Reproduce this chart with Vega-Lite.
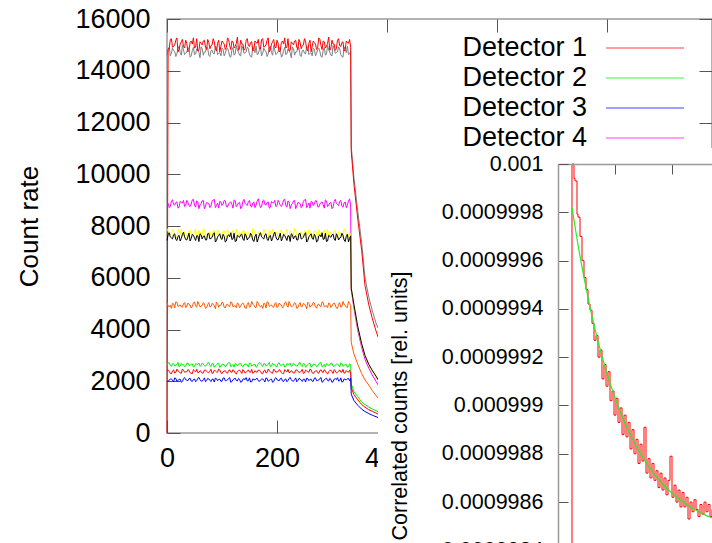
{
  "width": 545,
  "height": 414,
  "autosize": "none",
  "padding": {"left": 167, "top": 19, "right": 0, "bottom": 110},
  "background": "white",
  "config": {
    "font": "Liberation Sans",
    "view": {"stroke": "#9a9a9a", "strokeWidth": 1.5},
    "axis": {"labelFont": "Liberation Sans", "titleFont": "Liberation Sans", "labelColor": "#000000", "titleColor": "#000000", "tickColor": "#555555", "grid": false, "titleFontWeight": "normal", "labelFlush": false, "labelOverlap": false},
    "legend": {"labelFont": "Liberation Sans", "labelColor": "#000000"}
  },
  "datasets": {
    "main": [
      {"t":0,"D8":14600,"Sum":0,"D4":8870,"D5":7900,"D6":7440,"D7":5055,"D2":2600,"D1":2410,"D3":2000},
      {"t":4,"D8":14900,"Sum":14850,"D4":8710,"D5":7660,"D6":7740,"D7":4875,"D2":2700,"D1":2380,"D3":2050},
      {"t":8,"D8":14675,"Sum":15240,"D4":8970,"D5":7700,"D6":7540,"D7":4815,"D2":2570,"D1":2290,"D3":2090},
      {"t":12,"D8":14775,"Sum":14940,"D4":8830,"D5":7800,"D6":7660,"D7":4995,"D2":2670,"D1":2440,"D3":1970},
      {"t":16,"D8":14550,"Sum":15180,"D4":8910,"D5":7560,"D6":7480,"D7":5070,"D2":2610,"D1":2340,"D3":2110},
      {"t":20,"D8":14875,"Sum":14730,"D4":8690,"D5":7860,"D6":7600,"D7":4890,"D2":2730,"D1":2400,"D3":2030},
      {"t":24,"D8":14700,"Sum":15030,"D4":8950,"D5":7680,"D6":7420,"D7":4950,"D2":2590,"D1":2320,"D3":2080},
      {"t":28,"D8":14975,"Sum":15210,"D4":8890,"D5":7620,"D6":7680,"D7":4860,"D2":2640,"D1":2470,"D3":1990},
      {"t":32,"D8":14625,"Sum":14880,"D4":8750,"D5":7780,"D6":7580,"D7":5040,"D2":2560,"D1":2350,"D3":2140},
      {"t":36,"D8":14725,"Sum":15060,"D4":8990,"D5":7580,"D6":7460,"D7":4905,"D2":2690,"D1":2370,"D3":2040},
      {"t":40,"D8":14825,"Sum":14790,"D4":8790,"D5":7820,"D6":7720,"D7":4965,"D2":2620,"D1":2420,"D3":2100},
      {"t":44,"D8":14575,"Sum":15150,"D4":8850,"D5":7720,"D6":7520,"D7":4830,"D2":2660,"D1":2300,"D3":2010},
      {"t":48,"D8":14900,"Sum":15270,"D4":9030,"D5":7640,"D6":7640,"D7":5025,"D2":2550,"D1":2450,"D3":2070},
      {"t":52,"D8":14650,"Sum":14910,"D4":8730,"D5":7880,"D6":7440,"D7":4920,"D2":2680,"D1":2360,"D3":1980},
      {"t":56,"D8":14800,"Sum":14760,"D4":8930,"D5":7600,"D6":7620,"D7":5085,"D2":2650,"D1":2330,"D3":2110},
      {"t":60,"D8":14500,"Sum":15120,"D4":8810,"D5":7760,"D6":7700,"D7":4875,"D2":2580,"D1":2410,"D3":2060},
      {"t":64,"D8":14850,"Sum":15000,"D4":8970,"D5":7660,"D6":7500,"D7":4935,"D2":2700,"D1":2310,"D3":2000},
      {"t":68,"D8":14725,"Sum":15180,"D4":8670,"D5":7840,"D6":7620,"D7":4995,"D2":2600,"D1":2430,"D3":2130},
      {"t":72,"D8":14925,"Sum":14820,"D4":8910,"D5":7540,"D6":7460,"D7":4845,"D2":2630,"D1":2380,"D3":2030},
      {"t":76,"D8":14600,"Sum":15090,"D4":8870,"D5":7740,"D6":7720,"D7":5040,"D2":2720,"D1":2340,"D3":2090},
      {"t":80,"D8":14775,"Sum":14970,"D4":8770,"D5":7620,"D6":7520,"D7":4890,"D2":2570,"D1":2460,"D3":1990},
      {"t":84,"D8":14675,"Sum":15240,"D4":9010,"D5":7800,"D6":7680,"D7":4980,"D2":2670,"D1":2320,"D3":2080},
      {"t":88,"D8":14950,"Sum":14850,"D4":8710,"D5":7680,"D6":7380,"D7":4800,"D2":2610,"D1":2400,"D3":2120},
      {"t":92,"D8":14625,"Sum":15060,"D4":8890,"D5":7860,"D6":7580,"D7":5010,"D2":2690,"D1":2350,"D3":2020},
      {"t":96,"D8":14700,"Sum":14730,"D4":8950,"D5":7600,"D6":7700,"D7":4935,"D2":2540,"D1":2440,"D3":2080},
      {"t":100,"D8":14875,"Sum":15150,"D4":8790,"D5":7700,"D6":7480,"D7":5055,"D2":2660,"D1":2290,"D3":2000},
      {"t":104,"D8":14575,"Sum":15030,"D4":8990,"D5":7820,"D6":7600,"D7":4860,"D2":2640,"D1":2390,"D3":2130},
      {"t":108,"D8":14825,"Sum":14910,"D4":8750,"D5":7560,"D6":7420,"D7":4965,"D2":2590,"D1":2330,"D3":2030},
      {"t":112,"D8":14750,"Sum":15210,"D4":8850,"D5":7760,"D6":7660,"D7":4905,"D2":2710,"D1":2420,"D3":2110},
      {"t":116,"D8":14525,"Sum":14820,"D4":8930,"D5":7640,"D6":7740,"D7":5070,"D2":2560,"D1":2360,"D3":1960},
      {"t":120,"D8":14900,"Sum":15120,"D4":8690,"D5":7840,"D6":7500,"D7":4875,"D2":2650,"D1":2450,"D3":2060},
      {"t":124,"D8":14650,"Sum":14940,"D4":8970,"D5":7660,"D6":7400,"D7":4920,"D2":2680,"D1":2320,"D3":2120},
      {"t":128,"D8":14800,"Sum":15300,"D4":8810,"D5":7580,"D6":7640,"D7":5025,"D2":2600,"D1":2370,"D3":2010},
      {"t":132,"D8":14600,"Sum":14880,"D4":8910,"D5":7780,"D6":7560,"D7":4845,"D2":2700,"D1":2430,"D3":2070},
      {"t":136,"D8":14975,"Sum":15030,"D4":8730,"D5":7660,"D6":7680,"D7":4995,"D2":2580,"D1":2300,"D3":1980},
      {"t":140,"D8":14675,"Sum":14790,"D4":9030,"D5":7820,"D6":7440,"D7":4950,"D2":2630,"D1":2400,"D3":2100},
      {"t":144,"D8":14725,"Sum":15180,"D4":8830,"D5":7560,"D6":7620,"D7":4815,"D2":2670,"D1":2340,"D3":2140},
      {"t":148,"D8":14850,"Sum":14970,"D4":8950,"D5":7760,"D6":7540,"D7":5040,"D2":2550,"D1":2440,"D3":2020},
      {"t":152,"D8":14550,"Sum":15090,"D4":8770,"D5":7600,"D6":7720,"D7":4890,"D2":2690,"D1":2350,"D3":1970},
      {"t":156,"D8":14925,"Sum":14760,"D4":8890,"D5":7900,"D6":7460,"D7":4980,"D2":2610,"D1":2310,"D3":2090},
      {"t":160,"D8":14700,"Sum":15150,"D4":8710,"D5":7700,"D6":7600,"D7":4860,"D2":2660,"D1":2410,"D3":2050},
      {"t":164,"D8":14625,"Sum":15060,"D4":8970,"D5":7580,"D6":7380,"D7":5085,"D2":2570,"D1":2350,"D3":2110},
      {"t":168,"D8":14825,"Sum":14850,"D4":8870,"D5":7800,"D6":7660,"D7":4905,"D2":2720,"D1":2430,"D3":1990},
      {"t":172,"D8":14575,"Sum":15210,"D4":8750,"D5":7680,"D6":7580,"D7":4935,"D2":2620,"D1":2300,"D3":2080},
      {"t":176,"D8":14875,"Sum":14910,"D4":9010,"D5":7860,"D6":7500,"D7":5010,"D2":2680,"D1":2400,"D3":2040},
      {"t":180,"D8":14750,"Sum":15000,"D4":8810,"D5":7620,"D6":7700,"D7":4830,"D2":2590,"D1":2320,"D3":2130},
      {"t":184,"D8":14650,"Sum":15270,"D4":8930,"D5":7540,"D6":7440,"D7":5055,"D2":2650,"D1":2470,"D3":2000},
      {"t":188,"D8":14950,"Sum":14820,"D4":8730,"D5":7780,"D6":7640,"D7":4920,"D2":2560,"D1":2370,"D3":2070},
      {"t":192,"D8":14600,"Sum":15120,"D4":8910,"D5":7880,"D6":7520,"D7":4875,"D2":2690,"D1":2310,"D3":1960},
      {"t":196,"D8":14800,"Sum":14940,"D4":8990,"D5":7640,"D6":7760,"D7":4995,"D2":2640,"D1":2420,"D3":2100},
      {"t":200,"D8":14675,"Sum":15180,"D4":8790,"D5":7720,"D6":7480,"D7":4845,"D2":2580,"D1":2360,"D3":2060},
      {"t":204,"D8":14900,"Sum":14730,"D4":8910,"D5":7600,"D6":7580,"D7":5025,"D2":2710,"D1":2450,"D3":2020},
      {"t":208,"D8":14525,"Sum":15090,"D4":8750,"D5":7840,"D6":7420,"D7":4950,"D2":2610,"D1":2330,"D3":2120},
      {"t":212,"D8":14775,"Sum":15030,"D4":9010,"D5":7660,"D6":7680,"D7":4890,"D2":2670,"D1":2290,"D3":1990},
      {"t":216,"D8":14625,"Sum":14880,"D4":8810,"D5":7740,"D6":7540,"D7":5070,"D2":2570,"D1":2410,"D3":2090},
      {"t":220,"D8":14850,"Sum":15240,"D4":8970,"D5":7560,"D6":7620,"D7":4860,"D2":2660,"D1":2460,"D3":2030},
      {"t":224,"D8":14700,"Sum":14790,"D4":8670,"D5":7820,"D6":7400,"D7":4980,"D2":2700,"D1":2340,"D3":2150},
      {"t":228,"D8":14925,"Sum":15060,"D4":8870,"D5":7680,"D6":7660,"D7":4905,"D2":2600,"D1":2380,"D3":2010},
      {"t":232,"D8":14600,"Sum":15150,"D4":8990,"D5":7900,"D6":7600,"D7":5040,"D2":2660,"D1":2320,"D3":2060},
      {"t":236,"D8":14725,"Sum":14910,"D4":8770,"D5":7620,"D6":7460,"D7":4815,"D2":2580,"D1":2440,"D3":1980},
      {"t":240,"D8":14875,"Sum":15210,"D4":8890,"D5":7700,"D6":7700,"D7":4965,"D2":2710,"D1":2350,"D3":2110},
      {"t":244,"D8":14550,"Sum":14850,"D4":8710,"D5":7780,"D6":7500,"D7":4875,"D2":2610,"D1":2390,"D3":2040},
      {"t":248,"D8":14800,"Sum":15000,"D4":8950,"D5":7580,"D6":7560,"D7":5010,"D2":2690,"D1":2300,"D3":2080},
      {"t":252,"D8":14650,"Sum":15120,"D4":9030,"D5":7840,"D6":7740,"D7":4920,"D2":2540,"D1":2430,"D3":1970},
      {"t":256,"D8":14900,"Sum":14760,"D4":8790,"D5":7640,"D6":7440,"D7":5055,"D2":2640,"D1":2360,"D3":2100},
      {"t":260,"D8":14675,"Sum":15180,"D4":8690,"D5":7760,"D6":7640,"D7":4860,"D2":2700,"D1":2470,"D3":2070},
      {"t":264,"D8":14575,"Sum":14940,"D4":8930,"D5":7520,"D6":7520,"D7":4935,"D2":2590,"D1":2330,"D3":2000},
      {"t":268,"D8":14825,"Sum":15090,"D4":8850,"D5":7800,"D6":7680,"D7":5025,"D2":2650,"D1":2370,"D3":2120},
      {"t":272,"D8":14675,"Sum":14820,"D4":8970,"D5":7700,"D6":7380,"D7":4830,"D2":2560,"D1":2410,"D3":2020},
      {"t":276,"D8":14875,"Sum":15270,"D4":8730,"D5":7860,"D6":7620,"D7":4980,"D2":2680,"D1":2310,"D3":2050},
      {"t":280,"D8":14550,"Sum":14970,"D4":8910,"D5":7600,"D6":7580,"D7":4890,"D2":2720,"D1":2440,"D3":2140},
      {"t":284,"D8":14800,"Sum":15150,"D4":8830,"D5":7740,"D6":7480,"D7":5040,"D2":2600,"D1":2340,"D3":1990},
      {"t":288,"D8":14600,"Sum":14880,"D4":9010,"D5":7660,"D6":7720,"D7":4905,"D2":2550,"D1":2400,"D3":2090},
      {"t":292,"D8":14975,"Sum":15060,"D4":8750,"D5":7880,"D6":7420,"D7":4845,"D2":2670,"D1":2280,"D3":2030},
      {"t":296,"D8":14725,"Sum":14790,"D4":8890,"D5":7620,"D6":7600,"D7":4995,"D2":2630,"D1":2420,"D3":2110},
      {"t":300,"D8":14575,"Sum":15180,"D4":8670,"D5":7680,"D6":7660,"D7":4905,"D2":2690,"D1":2370,"D3":1960},
      {"t":304,"D8":14850,"Sum":15030,"D4":8950,"D5":7820,"D6":7500,"D7":5025,"D2":2570,"D1":2450,"D3":2080},
      {"t":308,"D8":14700,"Sum":14850,"D4":8870,"D5":7580,"D6":7700,"D7":4830,"D2":2660,"D1":2320,"D3":2060},
      {"t":312,"D8":14925,"Sum":15240,"D4":8790,"D5":7780,"D6":7460,"D7":4980,"D2":2620,"D1":2390,"D3":2010},
      {"t":316,"D8":14625,"Sum":14940,"D4":8990,"D5":7720,"D6":7560,"D7":4860,"D2":2710,"D1":2350,"D3":2130},
      {"t":320,"D8":14525,"Sum":15120,"D4":8730,"D5":7540,"D6":7640,"D7":5085,"D2":2580,"D1":2460,"D3":1980},
      {"t":324,"D8":14825,"Sum":14820,"D4":8930,"D5":7840,"D6":7400,"D7":4935,"D2":2650,"D1":2330,"D3":2070},
      {"t":328,"D8":14950,"Sum":15090,"D4":8810,"D5":7640,"D6":7680,"D7":4845,"D2":2540,"D1":2360,"D3":2100},
      {"t":332,"D8":14650,"Sum":15210,"D4":9050,"D5":7760,"D6":7520,"D7":5010,"D2":2680,"D1":2430,"D3":2020},
      {"t":334,"D8":14750,"Sum":14910,"D4":8770,"D5":7600,"D6":7620,"D7":4920,"D2":2640,"D1":2310,"D3":2120},
      {"t":335,"D8":11100,"Sum":10900,"D4":5550,"D5":5600,"D6":5600,"D7":3500,"D2":1900,"D1":1750,"D3":1500},
      {"t":340,"D8":9850,"Sum":9600,"D4":4800,"D5":4900,"D6":4950,"D7":3050,"D2":1600,"D1":1480,"D3":1250},
      {"t":347,"D8":8550,"Sum":8250,"D4":3950,"D5":4080,"D6":4100,"D7":2650,"D2":1400,"D1":1280,"D3":1070},
      {"t":354,"D8":7350,"Sum":7050,"D4":3300,"D5":3420,"D6":3450,"D7":2300,"D2":1200,"D1":1100,"D3":920},
      {"t":360,"D8":6000,"Sum":5700,"D4":2850,"D5":2980,"D6":3000,"D7":2050,"D2":1100,"D1":1000,"D3":830},
      {"t":367,"D8":5250,"Sum":4950,"D4":2500,"D5":2620,"D6":2650,"D7":1850,"D2":1000,"D1":900,"D3":750},
      {"t":373,"D8":4750,"Sum":4450,"D4":2250,"D5":2400,"D6":2430,"D7":1650,"D2":930,"D1":840,"D3":690},
      {"t":380,"D8":4250,"Sum":3950,"D4":2000,"D5":2180,"D6":2200,"D7":1450,"D2":860,"D1":770,"D3":630},
      {"t":384,"D8":4050,"Sum":3700,"D4":1850,"D5":2030,"D6":2050,"D7":1350,"D2":820,"D1":730,"D3":600},
      {"t":170,"D8":14900,"Sum":14850,"D4":8710,"D5":7660,"D6":7740,"D7":4875,"D2":2700,"D1":2380,"D3":2050},
      {"t":174,"D8":14675,"Sum":15240,"D4":8970,"D5":7700,"D6":7540,"D7":4815,"D2":2570,"D1":2290,"D3":2090},
      {"t":178,"D8":14775,"Sum":14940,"D4":8830,"D5":7800,"D6":7660,"D7":4995,"D2":2670,"D1":2440,"D3":1970},
      {"t":182,"D8":14550,"Sum":15180,"D4":8910,"D5":7560,"D6":7480,"D7":5070,"D2":2610,"D1":2340,"D3":2110},
      {"t":186,"D8":14875,"Sum":14730,"D4":8690,"D5":7860,"D6":7600,"D7":4890,"D2":2730,"D1":2400,"D3":2030},
      {"t":190,"D8":14700,"Sum":15030,"D4":8950,"D5":7680,"D6":7420,"D7":4950,"D2":2590,"D1":2320,"D3":2080},
      {"t":194,"D8":14975,"Sum":15210,"D4":8890,"D5":7620,"D6":7680,"D7":4860,"D2":2640,"D1":2470,"D3":1990},
      {"t":198,"D8":14625,"Sum":14880,"D4":8750,"D5":7780,"D6":7580,"D7":5040,"D2":2560,"D1":2350,"D3":2140},
      {"t":202,"D8":14725,"Sum":15060,"D4":8990,"D5":7580,"D6":7460,"D7":4905,"D2":2690,"D1":2370,"D3":2040},
      {"t":206,"D8":14825,"Sum":14790,"D4":8790,"D5":7820,"D6":7720,"D7":4965,"D2":2620,"D1":2420,"D3":2100},
      {"t":210,"D8":14575,"Sum":15150,"D4":8850,"D5":7720,"D6":7520,"D7":4830,"D2":2660,"D1":2300,"D3":2010},
      {"t":214,"D8":14900,"Sum":15270,"D4":9030,"D5":7640,"D6":7640,"D7":5025,"D2":2550,"D1":2450,"D3":2070},
      {"t":218,"D8":14650,"Sum":14910,"D4":8730,"D5":7880,"D6":7440,"D7":4920,"D2":2680,"D1":2360,"D3":1980},
      {"t":222,"D8":14800,"Sum":14760,"D4":8930,"D5":7600,"D6":7620,"D7":5085,"D2":2650,"D1":2330,"D3":2110},
      {"t":226,"D8":14500,"Sum":15120,"D4":8810,"D5":7760,"D6":7700,"D7":4875,"D2":2580,"D1":2410,"D3":2060},
      {"t":230,"D8":14850,"Sum":15000,"D4":8970,"D5":7660,"D6":7500,"D7":4935,"D2":2700,"D1":2310,"D3":2000},
      {"t":234,"D8":14725,"Sum":15180,"D4":8670,"D5":7840,"D6":7620,"D7":4995,"D2":2600,"D1":2430,"D3":2130},
      {"t":238,"D8":14925,"Sum":14820,"D4":8910,"D5":7540,"D6":7460,"D7":4845,"D2":2630,"D1":2380,"D3":2030},
      {"t":242,"D8":14600,"Sum":15090,"D4":8870,"D5":7740,"D6":7720,"D7":5040,"D2":2720,"D1":2340,"D3":2090},
      {"t":246,"D8":14775,"Sum":14970,"D4":8770,"D5":7620,"D6":7520,"D7":4890,"D2":2570,"D1":2460,"D3":1990},
      {"t":250,"D8":14675,"Sum":15240,"D4":9010,"D5":7800,"D6":7680,"D7":4980,"D2":2670,"D1":2320,"D3":2080},
      {"t":254,"D8":14950,"Sum":14850,"D4":8710,"D5":7680,"D6":7380,"D7":4800,"D2":2610,"D1":2400,"D3":2120},
      {"t":258,"D8":14625,"Sum":15060,"D4":8890,"D5":7860,"D6":7580,"D7":5010,"D2":2690,"D1":2350,"D3":2020},
      {"t":262,"D8":14700,"Sum":14730,"D4":8950,"D5":7600,"D6":7700,"D7":4935,"D2":2540,"D1":2440,"D3":2080},
      {"t":266,"D8":14875,"Sum":15150,"D4":8790,"D5":7700,"D6":7480,"D7":5055,"D2":2660,"D1":2290,"D3":2000},
      {"t":270,"D8":14575,"Sum":15030,"D4":8990,"D5":7820,"D6":7600,"D7":4860,"D2":2640,"D1":2390,"D3":2130},
      {"t":274,"D8":14825,"Sum":14910,"D4":8750,"D5":7560,"D6":7420,"D7":4965,"D2":2590,"D1":2330,"D3":2030},
      {"t":278,"D8":14750,"Sum":15210,"D4":8850,"D5":7760,"D6":7660,"D7":4905,"D2":2710,"D1":2420,"D3":2110},
      {"t":282,"D8":14525,"Sum":14820,"D4":8930,"D5":7640,"D6":7740,"D7":5070,"D2":2560,"D1":2360,"D3":1960},
      {"t":286,"D8":14900,"Sum":15120,"D4":8690,"D5":7840,"D6":7500,"D7":4875,"D2":2650,"D1":2450,"D3":2060},
      {"t":290,"D8":14650,"Sum":14940,"D4":8970,"D5":7660,"D6":7400,"D7":4920,"D2":2680,"D1":2320,"D3":2120},
      {"t":294,"D8":14800,"Sum":15300,"D4":8810,"D5":7580,"D6":7640,"D7":5025,"D2":2600,"D1":2370,"D3":2010},
      {"t":298,"D8":14600,"Sum":14880,"D4":8910,"D5":7780,"D6":7560,"D7":4845,"D2":2700,"D1":2430,"D3":2070},
      {"t":302,"D8":14975,"Sum":15030,"D4":8730,"D5":7660,"D6":7680,"D7":4995,"D2":2580,"D1":2300,"D3":1980},
      {"t":306,"D8":14675,"Sum":14790,"D4":9030,"D5":7820,"D6":7440,"D7":4950,"D2":2630,"D1":2400,"D3":2100},
      {"t":310,"D8":14725,"Sum":15180,"D4":8830,"D5":7560,"D6":7620,"D7":4815,"D2":2670,"D1":2340,"D3":2140},
      {"t":314,"D8":14850,"Sum":14970,"D4":8950,"D5":7760,"D6":7540,"D7":5040,"D2":2550,"D1":2440,"D3":2020},
      {"t":318,"D8":14550,"Sum":15090,"D4":8770,"D5":7600,"D6":7720,"D7":4890,"D2":2690,"D1":2350,"D3":1970},
      {"t":322,"D8":14925,"Sum":14760,"D4":8890,"D5":7900,"D6":7460,"D7":4980,"D2":2610,"D1":2310,"D3":2090},
      {"t":326,"D8":14700,"Sum":15150,"D4":8710,"D5":7700,"D6":7600,"D7":4860,"D2":2660,"D1":2410,"D3":2050},
      {"t":330,"D8":14625,"Sum":15060,"D4":8970,"D5":7580,"D6":7380,"D7":5085,"D2":2570,"D1":2350,"D3":2110},
      {"t":2,"D8":14825,"Sum":14850,"D4":8870,"D5":7800,"D6":7660,"D7":4905,"D2":2720,"D1":2430,"D3":1990},
      {"t":6,"D8":14575,"Sum":15210,"D4":8750,"D5":7680,"D6":7580,"D7":4935,"D2":2620,"D1":2300,"D3":2080},
      {"t":10,"D8":14875,"Sum":14910,"D4":9010,"D5":7860,"D6":7500,"D7":5010,"D2":2680,"D1":2400,"D3":2040},
      {"t":14,"D8":14750,"Sum":15000,"D4":8810,"D5":7620,"D6":7700,"D7":4830,"D2":2590,"D1":2320,"D3":2130},
      {"t":18,"D8":14650,"Sum":15270,"D4":8930,"D5":7540,"D6":7440,"D7":5055,"D2":2650,"D1":2470,"D3":2000},
      {"t":22,"D8":14950,"Sum":14820,"D4":8730,"D5":7780,"D6":7640,"D7":4920,"D2":2560,"D1":2370,"D3":2070},
      {"t":26,"D8":14600,"Sum":15120,"D4":8910,"D5":7880,"D6":7520,"D7":4875,"D2":2690,"D1":2310,"D3":1960},
      {"t":30,"D8":14800,"Sum":14940,"D4":8990,"D5":7640,"D6":7760,"D7":4995,"D2":2640,"D1":2420,"D3":2100},
      {"t":34,"D8":14675,"Sum":15180,"D4":8790,"D5":7720,"D6":7480,"D7":4845,"D2":2580,"D1":2360,"D3":2060},
      {"t":38,"D8":14900,"Sum":14730,"D4":8910,"D5":7600,"D6":7580,"D7":5025,"D2":2710,"D1":2450,"D3":2020},
      {"t":42,"D8":14525,"Sum":15090,"D4":8750,"D5":7840,"D6":7420,"D7":4950,"D2":2610,"D1":2330,"D3":2120},
      {"t":46,"D8":14775,"Sum":15030,"D4":9010,"D5":7660,"D6":7680,"D7":4890,"D2":2670,"D1":2290,"D3":1990},
      {"t":50,"D8":14625,"Sum":14880,"D4":8810,"D5":7740,"D6":7540,"D7":5070,"D2":2570,"D1":2410,"D3":2090},
      {"t":54,"D8":14850,"Sum":15240,"D4":8970,"D5":7560,"D6":7620,"D7":4860,"D2":2660,"D1":2460,"D3":2030},
      {"t":58,"D8":14700,"Sum":14790,"D4":8670,"D5":7820,"D6":7400,"D7":4980,"D2":2700,"D1":2340,"D3":2150},
      {"t":62,"D8":14925,"Sum":15060,"D4":8870,"D5":7680,"D6":7660,"D7":4905,"D2":2600,"D1":2380,"D3":2010},
      {"t":66,"D8":14600,"Sum":15150,"D4":8990,"D5":7900,"D6":7600,"D7":5040,"D2":2660,"D1":2320,"D3":2060},
      {"t":70,"D8":14725,"Sum":14910,"D4":8770,"D5":7620,"D6":7460,"D7":4815,"D2":2580,"D1":2440,"D3":1980},
      {"t":74,"D8":14875,"Sum":15210,"D4":8890,"D5":7700,"D6":7700,"D7":4965,"D2":2710,"D1":2350,"D3":2110},
      {"t":78,"D8":14550,"Sum":14850,"D4":8710,"D5":7780,"D6":7500,"D7":4875,"D2":2610,"D1":2390,"D3":2040},
      {"t":82,"D8":14800,"Sum":15000,"D4":8950,"D5":7580,"D6":7560,"D7":5010,"D2":2690,"D1":2300,"D3":2080},
      {"t":86,"D8":14650,"Sum":15120,"D4":9030,"D5":7840,"D6":7740,"D7":4920,"D2":2540,"D1":2430,"D3":1970},
      {"t":90,"D8":14900,"Sum":14760,"D4":8790,"D5":7640,"D6":7440,"D7":5055,"D2":2640,"D1":2360,"D3":2100},
      {"t":94,"D8":14675,"Sum":15180,"D4":8690,"D5":7760,"D6":7640,"D7":4860,"D2":2700,"D1":2470,"D3":2070},
      {"t":98,"D8":14575,"Sum":14940,"D4":8930,"D5":7520,"D6":7520,"D7":4935,"D2":2590,"D1":2330,"D3":2000},
      {"t":102,"D8":14825,"Sum":15090,"D4":8850,"D5":7800,"D6":7680,"D7":5025,"D2":2650,"D1":2370,"D3":2120},
      {"t":106,"D8":14675,"Sum":14820,"D4":8970,"D5":7700,"D6":7380,"D7":4830,"D2":2560,"D1":2410,"D3":2020},
      {"t":110,"D8":14875,"Sum":15270,"D4":8730,"D5":7860,"D6":7620,"D7":4980,"D2":2680,"D1":2310,"D3":2050},
      {"t":114,"D8":14550,"Sum":14970,"D4":8910,"D5":7600,"D6":7580,"D7":4890,"D2":2720,"D1":2440,"D3":2140},
      {"t":118,"D8":14800,"Sum":15150,"D4":8830,"D5":7740,"D6":7480,"D7":5040,"D2":2600,"D1":2340,"D3":1990},
      {"t":122,"D8":14600,"Sum":14880,"D4":9010,"D5":7660,"D6":7720,"D7":4905,"D2":2550,"D1":2400,"D3":2090},
      {"t":126,"D8":14975,"Sum":15060,"D4":8750,"D5":7880,"D6":7420,"D7":4845,"D2":2670,"D1":2280,"D3":2030},
      {"t":130,"D8":14725,"Sum":14790,"D4":8890,"D5":7620,"D6":7600,"D7":4995,"D2":2630,"D1":2420,"D3":2110},
      {"t":134,"D8":14575,"Sum":15180,"D4":8670,"D5":7680,"D6":7660,"D7":4905,"D2":2690,"D1":2370,"D3":1960},
      {"t":138,"D8":14850,"Sum":15030,"D4":8950,"D5":7820,"D6":7500,"D7":5025,"D2":2570,"D1":2450,"D3":2080},
      {"t":142,"D8":14700,"Sum":14850,"D4":8870,"D5":7580,"D6":7700,"D7":4830,"D2":2660,"D1":2320,"D3":2060},
      {"t":146,"D8":14925,"Sum":15240,"D4":8790,"D5":7780,"D6":7460,"D7":4980,"D2":2620,"D1":2390,"D3":2010},
      {"t":150,"D8":14625,"Sum":14940,"D4":8990,"D5":7720,"D6":7560,"D7":4860,"D2":2710,"D1":2350,"D3":2130},
      {"t":154,"D8":14525,"Sum":15120,"D4":8730,"D5":7540,"D6":7640,"D7":5085,"D2":2580,"D1":2460,"D3":1980},
      {"t":158,"D8":14825,"Sum":14820,"D4":8930,"D5":7840,"D6":7400,"D7":4935,"D2":2650,"D1":2330,"D3":2070},
      {"t":162,"D8":14950,"Sum":15090,"D4":8810,"D5":7640,"D6":7680,"D7":4845,"D2":2540,"D1":2360,"D3":2100},
      {"t":166,"D8":14650,"Sum":15210,"D4":9050,"D5":7760,"D6":7520,"D7":5010,"D2":2680,"D1":2430,"D3":2020}
    ],
    "red": [
      {"u":0.2456,"c":0.000997},{"u":0.2807,"c":0.001},{"u":0.2982,"c":0.00099994},{"u":0.3333,"c":0.00099993},
      {"u":0.3509,"c":0.000999792},{"u":0.386,"c":0.00099978},{"u":0.4211,"c":0.0009997},{"u":0.4561,"c":0.0009996},
      {"u":0.4912,"c":0.00099953},{"u":0.5263,"c":0.00099948},{"u":0.5614,"c":0.00099942},{"u":0.5965,"c":0.000999395},
      {"u":0.6316,"c":0.00099934},{"u":0.6667,"c":0.00099927},{"u":0.7018,"c":0.00099929},{"u":0.7368,"c":0.0009992},
      {"u":0.7719,"c":0.00099923},{"u":0.807,"c":0.00099911},{"u":0.8421,"c":0.00099917},{"u":0.8772,"c":0.00099908},
      {"u":0.9123,"c":0.00099914},{"u":0.9474,"c":0.00099902},{"u":0.9825,"c":0.00099906},{"u":1.0175,"c":0.00099896},
      {"u":1.0526,"c":0.00099903},{"u":1.0877,"c":0.00099893},{"u":1.1228,"c":0.00099899},{"u":1.1579,"c":0.00099888},
      {"u":1.193,"c":0.00099896},{"u":1.2281,"c":0.00099887},{"u":1.2632,"c":0.00099893},{"u":1.2982,"c":0.00099882},
      {"u":1.3333,"c":0.0009989},{"u":1.3684,"c":0.0009988},{"u":1.4035,"c":0.00099886},{"u":1.4386,"c":0.00099876},
      {"u":1.4737,"c":0.00099884},{"u":1.5088,"c":0.00099877},{"u":1.5439,"c":0.00099891},{"u":1.5789,"c":0.00099872},
      {"u":1.614,"c":0.00099878},{"u":1.6491,"c":0.0009987},{"u":1.6842,"c":0.00099876},{"u":1.7193,"c":0.00099869},
      {"u":1.7544,"c":0.00099873},{"u":1.7895,"c":0.00099866},{"u":1.8246,"c":0.00099872},{"u":1.8596,"c":0.00099865},
      {"u":1.8947,"c":0.0009987},{"u":1.9298,"c":0.00099863},{"u":1.9649,"c":0.00099869},{"u":2.0,"c":0.00099879},
      {"u":2.0351,"c":0.00099862},{"u":2.0702,"c":0.00099867},{"u":2.1053,"c":0.0009986},{"u":2.1404,"c":0.00099865},
      {"u":2.1754,"c":0.00099858},{"u":2.2105,"c":0.00099864},{"u":2.2456,"c":0.00099858},{"u":2.2807,"c":0.00099862},
      {"u":2.3158,"c":0.00099853},{"u":2.3509,"c":0.0009986},{"u":2.386,"c":0.00099856},{"u":2.4211,"c":0.00099861},
      {"u":2.4561,"c":0.00099857},{"u":2.4912,"c":0.00099854},{"u":2.5263,"c":0.00099859},{"u":2.5614,"c":0.00099855},
      {"u":2.5965,"c":0.0009986},{"u":2.6316,"c":0.00099856},{"u":2.6667,"c":0.00099859},{"u":2.7018,"c":0.00099854},
      {"u":2.7368,"c":0.00099857},{"u":2.807,"c":0.00099855},{"u":2.8772,"c":0.00099856}
    ],
    "fit": [
      {"u":0.2456,"c":0.00099982},{"u":0.3684,"c":0.000999642},{"u":0.4912,"c":0.000999488},{"u":0.614,"c":0.000999352},
      {"u":0.7368,"c":0.000999235},{"u":0.8596,"c":0.000999133},{"u":0.9825,"c":0.000999044},{"u":1.1053,"c":0.000998967},
      {"u":1.2281,"c":0.0009989},{"u":1.3509,"c":0.000998842},{"u":1.4737,"c":0.000998791},{"u":1.5965,"c":0.000998746},
      {"u":1.7193,"c":0.000998708},{"u":1.8421,"c":0.000998674},{"u":1.9649,"c":0.000998645},{"u":2.0877,"c":0.00099862},
      {"u":2.2105,"c":0.000998598},{"u":2.3333,"c":0.000998579},{"u":2.4561,"c":0.000998562},{"u":2.5789,"c":0.000998547},
      {"u":2.7018,"c":0.000998535},{"u":2.8772,"c":0.00099852}
    ]
  },
  "layer": [
    {
      "data": {"name": "main"},
      "transform": [{"fold": ["D8","Sum","D4","D5","D6","D7","D2","D1","D3"], "as": ["series","v"]}],
      "layer": [
        {
          "mark": {"type": "line", "strokeWidth": 1},
          "encoding": {
            "x": {"field": "t", "type": "quantitative", "scale": {"domain": [0, 991], "nice": false, "zero": false},
                  "axis": {"orient": "bottom", "values": [0,200,400], "format": "d", "tickSize": -13, "labelPadding": 25, "labelFontSize": 27, "domain": false, "title": null}},
            "y": {"field": "v", "type": "quantitative", "scale": {"domain": [0, 16000], "nice": false},
                  "axis": {"orient": "left", "values": [0,2000,4000,6000,8000,10000,12000,14000,16000], "format": "d", "tickSize": -13, "labelPadding": 30, "labelFontSize": 27, "domain": false, "title": "Count rate", "titleFontSize": 26, "titlePadding": 32}},
            "color": {"field": "series", "type": "nominal",
                      "scale": {"domain": ["D1","D2","D3","D4","D5","D6","D7","D8","Sum"], "range": ["#ff0000","#00ee00","#0000ff","#ff00ff","#ffff00","#000000","#ff5a00","#808080","#ff0000"]},
                      "legend": {"orient": "none", "legendX": 462, "legendY": 13, "title": null, "values": ["D1","D2","D3","D4"],
                                 "labelExpr": "'Detector ' + slice(datum.label, 1)", "symbolType": "M-2.6,0H2.6", "symbolSize": 900, "symbolStrokeWidth": 1,
                                 "symbolOffset": 0, "rowPadding": 1, "padding": 0, "labelFontSize": 27, "labelAlign": "right", "labelOffset": -74, "labelLimit": 300,
                                 "encode": {"symbols": {"update": {"stroke": {"scale": "color", "field": "value"}, "strokeWidth": {"value": 1.2}, "opacity": {"value": 0.75}}}}}}
          }
        },
        {
          "mark": {"type": "point", "opacity": 0},
          "encoding": {
            "x": {"field": "t", "type": "quantitative", "scale": {"domain": [0, 991], "nice": false, "zero": false},
                  "axis": {"orient": "top", "values": [0,200,400,600,800], "tickSize": -13, "labels": false, "domain": false, "title": null}},
            "y": {"field": "v", "type": "quantitative", "scale": {"domain": [0, 16000], "nice": false},
                  "axis": {"orient": "right", "values": [0,2000,4000,6000,8000,10000,12000,14000,16000], "tickSize": -13, "labels": false, "domain": false, "title": null}}
          }
        }
      ],
      "resolve": {"axis": {"x": "independent", "y": "independent"}}
    },
    {
      "layer": [
        {
          "data": {"values": [{}]},
          "mark": {"type": "rect", "fill": "#ffffff"},
          "encoding": {
            "x": {"datum": -3.158, "type": "quantitative", "scale": {"domain": [0, 3], "range": [391, 562], "nice": false, "zero": false}},
            "x2": {"datum": 3.5},
            "y": {"datum": 0.0010000662, "type": "quantitative", "scale": {"domain": [0.000998, 0.001], "range": [628, 145], "nice": false, "zero": false}},
            "y2": {"datum": 0.000996}
          }
        },
        {
          "data": {"name": "red"},
          "mark": {"type": "line", "interpolate": "step-before", "color": "#ff0000", "strokeWidth": 1},
          "encoding": {
            "x": {"field": "u", "type": "quantitative", "scale": {"domain": [0, 3], "range": [391, 562], "nice": false, "zero": false},
                  "axis": {"orient": "top", "offset": -145, "values": [0,1,2,3], "tickSize": -10, "labels": false, "title": null, "domainColor": "#9a9a9a", "domainWidth": 1.5, "zindex": 1}},
            "y": {"field": "c", "type": "quantitative", "scale": {"domain": [0.000998, 0.001], "range": [628, 145], "nice": false, "zero": false},
                  "axis": {"orient": "left", "offset": -391, "values": [0.0009984,0.0009986,0.0009988,0.000999,0.0009992,0.0009994,0.0009996,0.0009998,0.001],
                           "format": "~g", "tickSize": -10, "labelPadding": 25, "labelFontSize": 21.5, "domainColor": "#9a9a9a", "domainWidth": 1.5,
                           "title": "Correlated counts [rel. units]", "titleFontSize": 21.5, "titlePadding": 30, "zindex": 1}}
          }
        },
        {
          "data": {"name": "fit"},
          "mark": {"type": "line", "interpolate": "monotone", "color": "#22ee22", "strokeWidth": 1.2},
          "encoding": {
            "x": {"field": "u", "type": "quantitative", "scale": {"domain": [0, 3], "range": [391, 562], "nice": false, "zero": false}},
            "y": {"field": "c", "type": "quantitative", "scale": {"domain": [0.000998, 0.001], "range": [628, 145], "nice": false, "zero": false}}
          }
        }
      ]
    }
  ],
  "resolve": {"scale": {"x": "independent", "y": "independent"}}
}
